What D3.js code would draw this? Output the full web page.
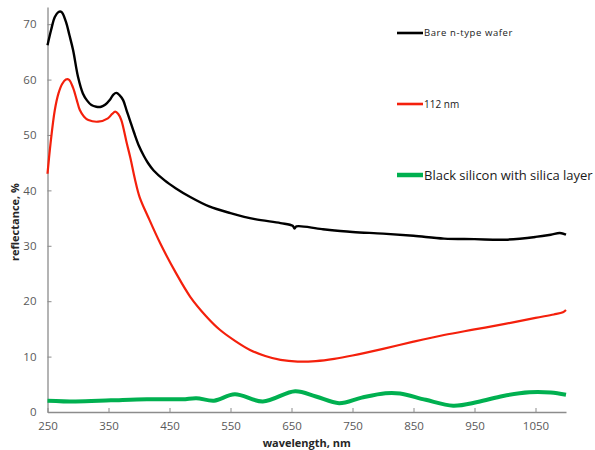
<!DOCTYPE html>
<html>
<head>
<meta charset="utf-8">
<script src="https://cdn.jsdelivr.net/npm/d3@7"></script>
<style>
  body { margin: 0; background: #fff; }
  svg text { font-family: "Open Sans", sans-serif; }
</style>
</head>
<body>
<svg id="chart" width="595" height="450"></svg>
<script>
"use strict";

// Values (wavelength in nm, reflectance in %)
var bareWl  = [250, 256, 262, 268, 273, 280, 286, 292, 300, 308, 315, 322, 330, 338, 345, 352, 358, 363, 368, 374, 380, 385, 392, 400, 408, 415, 424, 442, 460, 484, 515, 550, 590, 632, 652, 655, 658, 700, 750, 800, 850, 900, 950, 1000, 1050, 1075, 1090, 1100];
var bareR   = [66.2, 69, 71.3, 72.2, 72.2, 70.5, 68, 65.3, 60.5, 57.5, 56.2, 55.4, 55.1, 55.1, 55.5, 56.3, 57.3, 57.6, 57.2, 56.3, 54.3, 52.7, 50.4, 48, 46.2, 44.9, 43.6, 41.8, 40.4, 38.8, 37.1, 35.9, 34.8, 34.1, 33.6, 33.1, 33.5, 33, 32.5, 32.2, 31.8, 31.3, 31.2, 31.1, 31.6, 32, 32.3, 32];

var filmWl  = [250, 255, 262, 268, 274, 280, 285, 292, 298, 303, 310, 317, 333, 349, 356, 361, 366, 371, 380, 386, 393, 401, 415, 435, 460, 484, 510, 533, 558, 582, 607, 632, 660, 690, 720, 750, 800, 850, 900, 950, 1000, 1050, 1080, 1095, 1100];
var filmR   = [43, 48.5, 54.5, 57.5, 59.2, 60, 60, 58.5, 56.3, 54.5, 53.3, 52.7, 52.4, 53, 53.8, 54.2, 53.8, 52.7, 48.5, 45.8, 42.2, 38.8, 35.2, 30.4, 25.2, 20.8, 17.3, 14.8, 12.8, 11.2, 10.1, 9.4, 9.1, 9.2, 9.6, 10.2, 11.4, 12.7, 13.9, 14.9, 15.9, 17, 17.6, 18, 18.4];

var blackWl = [250, 296, 354, 413, 471, 494, 523, 557, 603, 656, 690, 728, 765, 804, 828, 870, 915, 955, 997, 1040, 1075, 1100];
var blackR  = [2.05, 1.9, 2.1, 2.3, 2.3, 2.5, 2.05, 3.2, 1.9, 3.75, 2.8, 1.6, 2.6, 3.4, 3.35, 2.2, 1.15, 1.8, 2.9, 3.55, 3.5, 3.1];

var seriesNames  = ["Bare n-type wafer", "112 nm", "Black silicon with silica layer"];
var xTickValues  = [250, 350, 450, 550, 650, 750, 850, 950, 1050];
var yTickValues  = [0, 10, 20, 30, 40, 50, 60, 70];

var svg = d3.select("#chart");
var plotLeft = 47.5, plotRight = 566, plotTop = 7, plotBottom = 412;

var x = d3.scaleLinear().domain([250, 1100]).range([plotLeft, plotRight]);
var y = d3.scaleLinear().domain([0, 73.1]).range([plotBottom, plotTop]);

function zip(wl, r) {
    return wl.map(function (w, i) { return [w, r[i]]; });
}

var series = [
    { name: seriesNames[0], pts: zip(bareWl, bareR),   color: "#000000", width: 2.4 },
    { name: seriesNames[1], pts: zip(filmWl, filmR),   color: "#f4200c", width: 2.2 },
    { name: seriesNames[2], pts: zip(blackWl, blackR), color: "#00b050", width: 4 }
];

// axes
var axisColor = "#8c8c8c", labelColor = "#595959";

var xAxis = svg.append("g")
    .attr("transform", "translate(0," + plotBottom + ")")
    .call(d3.axisBottom(x).tickValues(xTickValues).tickFormat(d3.format("d"))
        .tickSize(-4).tickSizeOuter(0).tickPadding(10));
var yAxis = svg.append("g")
    .attr("transform", "translate(" + plotLeft + ",0)")
    .call(d3.axisLeft(y).tickValues(yTickValues).tickSize(-4).tickSizeOuter(0).tickPadding(11));

[xAxis, yAxis].forEach(function (a) {
    a.select(".domain").attr("stroke", axisColor).attr("stroke-width", 1.3);
    a.selectAll(".tick line").attr("stroke", axisColor).attr("stroke-width", 1);
    a.selectAll(".tick text").attr("fill", labelColor).attr("font-size", 11.5)
        .style("font-family", "'Open Sans', sans-serif");
});

svg.append("text")
    .attr("x", (plotLeft + plotRight) / 2).attr("y", 447)
    .attr("text-anchor", "middle")
    .attr("font-size", 11).attr("font-weight", "bold").attr("fill", "#262626")
    .text("wavelength, nm");

svg.append("text")
    .attr("transform", "translate(19,222) rotate(-90)")
    .attr("text-anchor", "middle")
    .attr("font-size", 11).attr("font-weight", "bold").attr("fill", "#262626")
    .text("reflectance, %");

// curves - catmull-rom keeps the line through every read point but rounds the joins
var line = d3.line()
    .x(function (d) { return x(d[0]); })
    .y(function (d) { return y(d[1]); })
    .curve(d3.curveCatmullRom.alpha(0.5));

svg.selectAll("path.series")
    .data(series)
    .enter().append("path")
    .attr("class", "series")
    .attr("d", function (d) { return line(d.pts); })
    .attr("fill", "none")
    .attr("stroke", function (d) { return d.color; })
    .attr("stroke-width", function (d) { return d.width; })
    .attr("stroke-linejoin", "round");

// legend
var legendY = [33, 104, 175];
var legendSize = [9.5, 10, 13];
var legend = svg.selectAll("g.legend")
    .data(series)
    .enter().append("g")
    .attr("class", "legend")
    .attr("transform", function (d, i) { return "translate(397," + legendY[i] + ")"; });

legend.append("line")
    .attr("x1", 0).attr("x2", 26)
    .attr("stroke", function (d) { return d.color; })
    .attr("stroke-width", function (d, i) { return i === 2 ? 4.5 : 2.6; });

legend.append("text")
    .attr("x", 27).attr("dy", "0.35em")
    .attr("font-size", function (d, i) { return legendSize[i]; })
    .attr("letter-spacing", function (d, i) { return i === 0 ? 0.6 : 0; })
    .attr("fill", "#1a1a1a")
    .text(function (d) { return d.name; });
</script>
</body>
</html>
